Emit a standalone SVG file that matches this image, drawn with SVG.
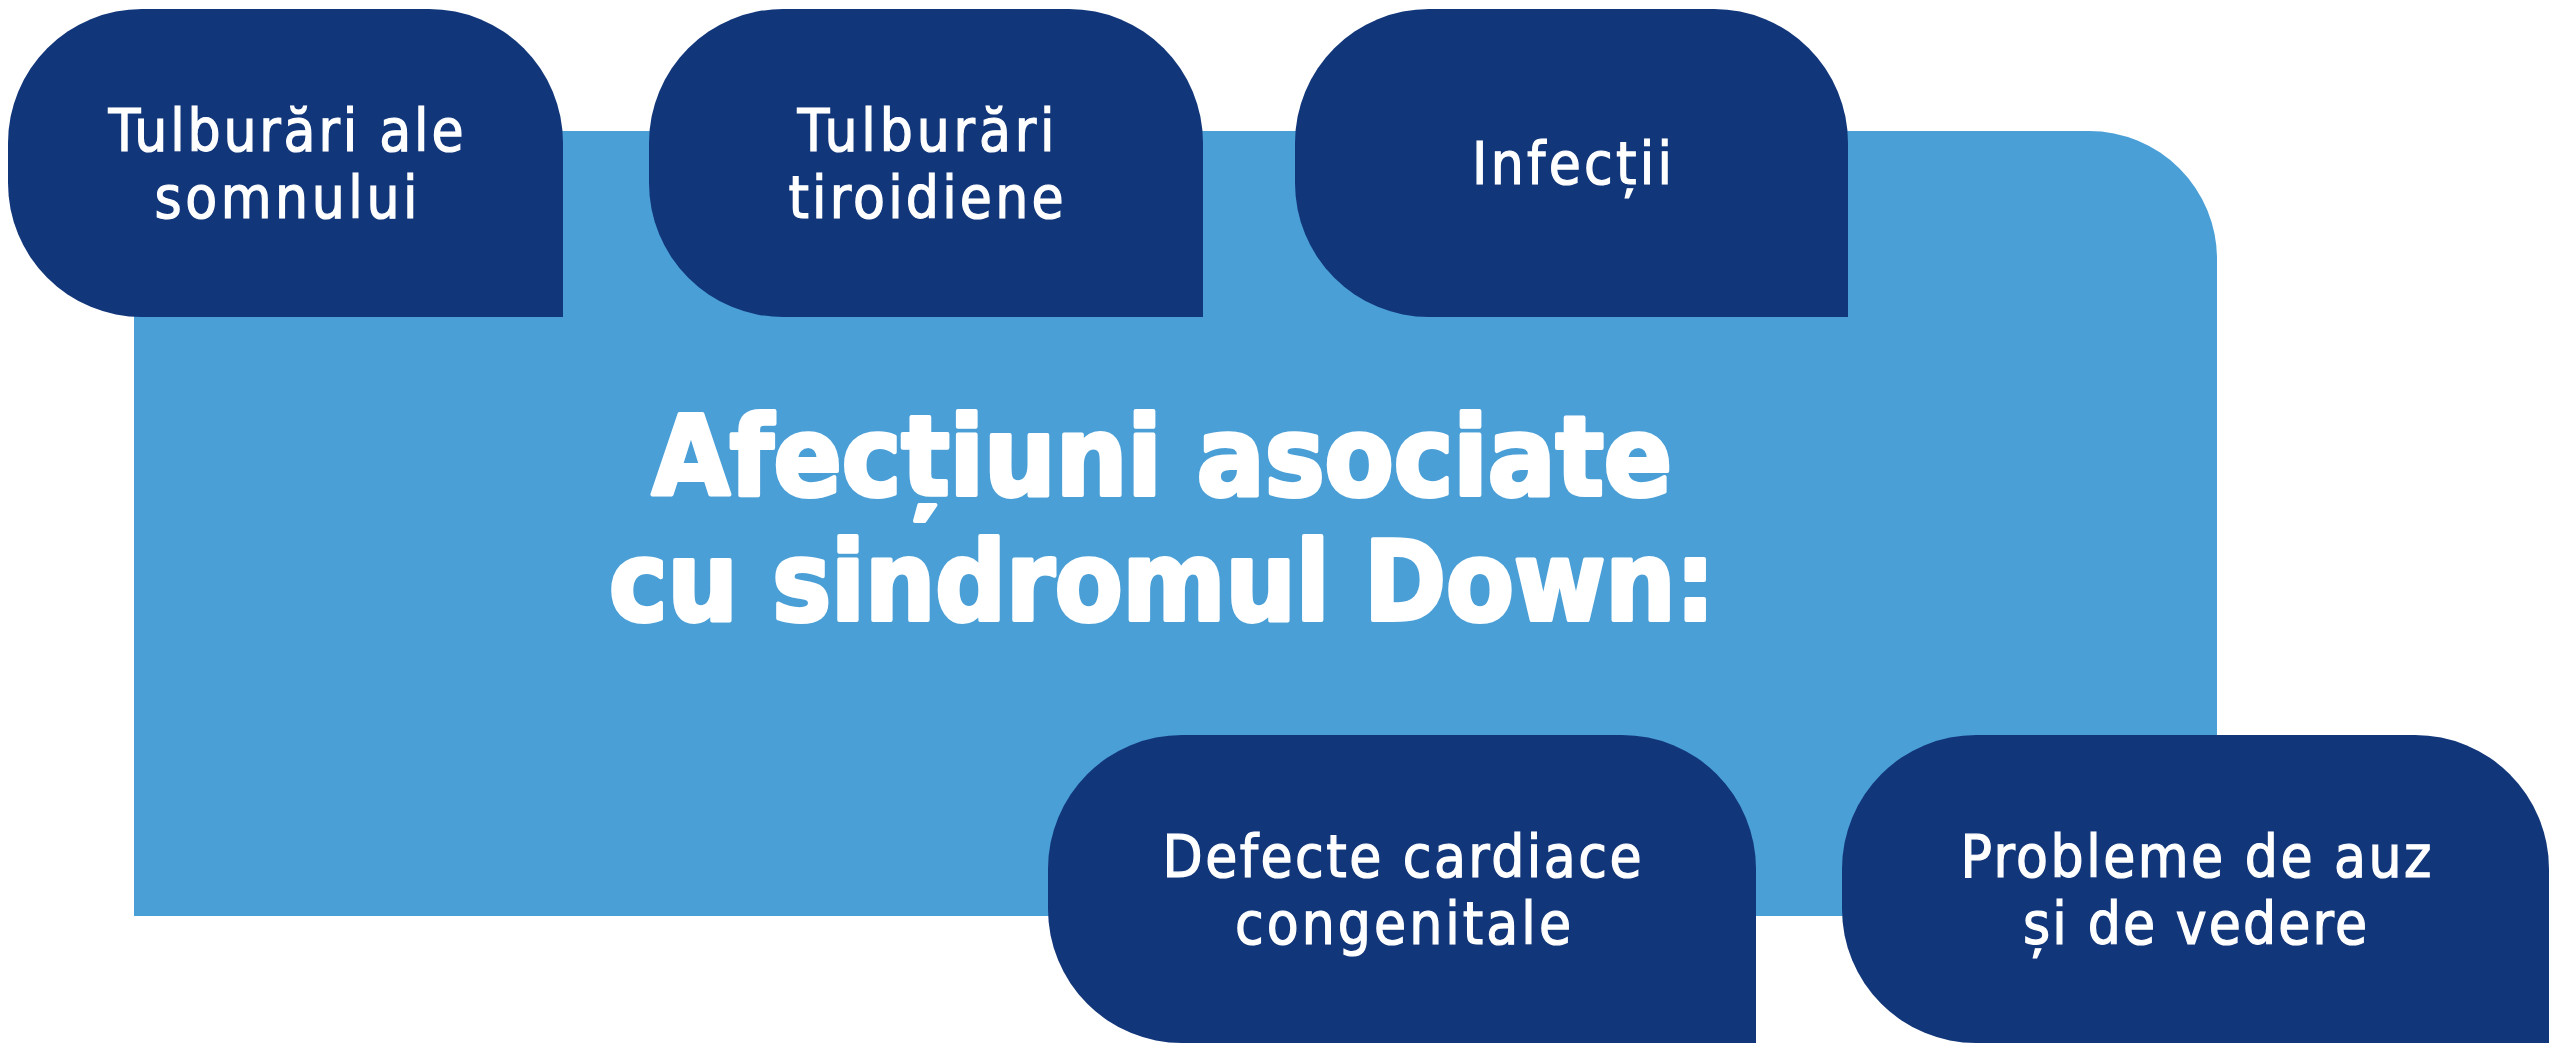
<svg xmlns="http://www.w3.org/2000/svg" width="2560" height="1053" viewBox="0 0 2560 1053">
<style>
.node{fill:#12367a}
.center{fill:#4a9fd7}
.lbl{font-family:"DejaVu Sans Condensed","DejaVu Sans","Liberation Sans",sans-serif;font-size:58px;fill:#ffffff;stroke:#ffffff;stroke-width:1.2px;text-anchor:middle}
.title{font-family:"DejaVu Sans Condensed","DejaVu Sans","Liberation Sans",sans-serif;font-weight:bold;font-size:110px;fill:#ffffff;stroke:#ffffff;stroke-width:4px;stroke-linejoin:round;text-anchor:middle}
</style>
<rect width="2560" height="1053" fill="#ffffff"/>
<g id="center">
<path class="center" d="M134,131 H2089 A128,128 0 0 1 2217,259 V916 H134 Z"/>
<text class="title" x="1162" y="495" textLength="1020" lengthAdjust="spacingAndGlyphs">Afecțiuni asociate</text>
<text class="title" x="1162" y="620" textLength="1106" lengthAdjust="spacingAndGlyphs">cu sindromul Down:</text>
</g>
<g id="connectors"></g>
<g id="node-somn">
<path class="node" d="M142,9 H429 A134,134 0 0 1 563,143 V317 H142 A134,134 0 0 1 8,183 V143 A134,134 0 0 1 142,9 Z"/>
<text class="lbl" x="286" y="151" textLength="355" lengthAdjust="spacing">Tulburări ale</text>
<text class="lbl" x="286" y="218" textLength="263" lengthAdjust="spacing">somnului</text>
</g>
<g id="node-tiroid">
<path class="node" d="M783,9 H1069 A134,134 0 0 1 1203,143 V317 H783 A134,134 0 0 1 649,183 V143 A134,134 0 0 1 783,9 Z"/>
<text class="lbl" x="926" y="151" textLength="257" lengthAdjust="spacing">Tulburări</text>
<text class="lbl" x="926" y="218" textLength="275" lengthAdjust="spacing">tiroidiene</text>
</g>
<g id="node-infectii">
<path class="node" d="M1429,9 H1714 A134,134 0 0 1 1848,143 V317 H1429 A134,134 0 0 1 1295,183 V143 A134,134 0 0 1 1429,9 Z"/>
<text class="lbl" x="1572" y="184" textLength="200" lengthAdjust="spacing">Infecții</text>
</g>
<g id="node-cardiace">
<path class="node" d="M1182,735 H1622 A134,134 0 0 1 1756,869 V1043 H1182 A134,134 0 0 1 1048,909 V869 A134,134 0 0 1 1182,735 Z"/>
<text class="lbl" x="1402" y="877" textLength="479" lengthAdjust="spacing">Defecte cardiace</text>
<text class="lbl" x="1403" y="944" textLength="336" lengthAdjust="spacing">congenitale</text>
</g>
<g id="node-auz">
<path class="node" d="M1976,735 H2415 A134,134 0 0 1 2549,869 V1043 H1976 A134,134 0 0 1 1842,909 V869 A134,134 0 0 1 1976,735 Z"/>
<text class="lbl" x="2196" y="877" textLength="471" lengthAdjust="spacing">Probleme de auz</text>
<text class="lbl" x="2195" y="944" textLength="344" lengthAdjust="spacing">și de vedere</text>
</g>
</svg>
